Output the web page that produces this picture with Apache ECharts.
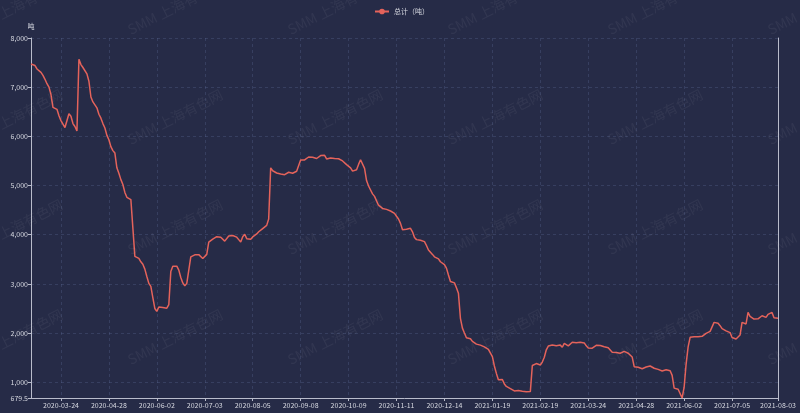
<!DOCTYPE html>
<html>
<head>
<meta charset="utf-8">
<style>
  html, body { margin: 0; padding: 0; background: #262b47; }
  #main { width: 800px; height: 413px; }
</style>
<script src="https://cdn.jsdelivr.net/npm/echarts@6/dist/echarts.min.js"></script>
</head>
<body>
<div id="main"></div>
<script>
// dates printed under the x axis, and the category index where each one sits
const labelDates = [
  "2020-03-24", "2020-04-28", "2020-06-02", "2020-07-03", "2020-08-05",
  "2020-09-08", "2020-10-09", "2020-11-11", "2020-12-14", "2021-01-19",
  "2021-02-19", "2021-03-24", "2021-04-28", "2021-06-02", "2021-07-05",
  "2021-08-03",
];
const labelIndex = [15, 39, 63, 87, 111, 135, 159, 183, 207, 231, 255, 279, 303, 327, 351, 374];

// 总计（吨）
const totals = [
  7470, 7460, 7440, 7370, 7330, 7300, 7240, 7160, 7070, 7000,
  6850, 6590, 6560, 6550, 6420, 6320, 6250, 6180, 6180, 6460,
  6410, 6260, 6200, 6110, 7570, 7460, 7400, 7360, 7270, 7120,
  6800, 6700, 6640, 6580, 6450, 6370, 6260, 6170, 6020, 5930,
  5790, 5710, 5660, 5360, 5250, 5120, 5020, 4860, 4760, 4720,
  4715, 4710, 3560, 3545, 3520, 3450, 3400, 3300, 3150, 3010,
  2950, 2720, 2500, 2440, 2530, 2540, 2520, 2515, 2505, 2580,
  3250, 3360, 3370, 3360, 3280, 3130, 3020, 2960, 3010, 2995,
  3550, 3590, 3590, 3585, 3595, 3570, 3515, 3500, 3600, 3850,
  3880, 3910, 3940, 3960, 3970, 3950, 3910, 3870, 3840, 3975,
  3985, 3985, 3975, 3950, 3900, 3850, 3960, 4010, 3920, 3895,
  3910, 3955, 3990, 4015, 4060, 4090, 4125, 4150, 4190, 4320,
  5360, 5300, 5270, 5255, 5240, 5235, 5215, 5220, 5230, 5270,
  5250, 5250, 5260, 5290, 5330, 5520, 5480, 5520, 5555, 5580,
  5590, 5575, 5580, 5550, 5560, 5610, 5630, 5615, 5540, 5500,
  5560, 5575, 5550, 5548, 5545, 5530, 5500, 5460, 5425, 5390,
  5360, 5293, 5293, 5320, 5430, 5525, 5490, 5350, 5100, 4990,
  4950, 4830, 4780, 4740, 4600, 4560, 4535, 4520, 4515, 4490,
  4482, 4478, 4435, 4375, 4320, 4230, 4100, 4080, 4110, 4140,
  4130, 4060, 3942, 3900, 3887, 3887, 3887, 3860, 3780, 3690,
  3650, 3600, 3550, 3530, 3510, 3450, 3410, 3390, 3320, 3180,
  3050, 3040, 3020, 2920, 2810, 2300, 2100, 2000, 1905, 1895,
  1885, 1830, 1800, 1775, 1760, 1755, 1745, 1720, 1695, 1670,
  1658, 1520, 1330, 1180, 1050, 1060, 1055, 966, 915, 890,
  870, 845, 823, 828, 830, 830, 815, 797, 805, 810,
  810, 1340, 1370, 1380, 1380, 1350, 1410, 1507, 1660, 1735,
  1750, 1757, 1750, 1743, 1743, 1755, 1712, 1791, 1775, 1740,
  1740, 1812, 1800, 1805, 1830, 1815, 1820, 1800, 1740, 1695,
  1690, 1693, 1696, 1750, 1770, 1748, 1735, 1723, 1715, 1700,
  1660, 1612, 1609, 1605, 1592, 1590, 1600, 1629, 1610, 1590,
  1550, 1512, 1317, 1310, 1304, 1310, 1275, 1315, 1310, 1290,
  1330, 1300, 1284, 1265, 1262, 1262, 1230, 1215, 1252, 1252,
  1235, 1140, 880, 865, 858, 835, 679.5, 899, 1370, 1720,
  1913, 1920, 1926, 1926, 1926, 1928, 1933, 1960, 1995, 2030,
  2035, 2003, 2217, 2228, 2200, 2150, 2090, 2060, 2045, 2038,
  2010, 1910, 1885, 1880, 1905, 1960, 2217, 2203, 2185, 2420,
  2340, 2300, 2285, 2295, 2290, 2270, 2352, 2339, 2320, 2380,
  2400, 2420, 2310, 2299, 2299,
];

// fill in the unlabelled days between the printed dates
const DAY = 86400000;
const toTime = (s) => Date.parse(s + "T00:00:00Z");
const dates = totals.map((v, i) => {
  let k = 0;
  while (k < labelIndex.length - 2 && i > labelIndex[k + 1]) k++;
  const i0 = labelIndex[k], i1 = labelIndex[k + 1];
  const t0 = toTime(labelDates[k]), t1 = toTime(labelDates[k + 1]);
  const days = Math.round(((i - i0) * (t1 - t0)) / (i1 - i0) / DAY);
  return new Date(t0 + days * DAY).toISOString().slice(0, 10);
});
const showAt = (idx) => labelIndex.indexOf(idx) !== -1;

const watermarks = [];
[15, 175, 335, 495, 655, 815].forEach((x) => {
  [7, 117, 227, 337].forEach((y) => {
    watermarks.push({
      type: "text",
      x: x,
      y: y,
      rotation: 0.47,
      silent: true,
      z: 100,
      style: {
        text: "SMM 上海有色网",
        fill: "rgba(255,255,255,0.055)",
        font: "14px 'Noto Sans CJK SC', sans-serif",
        align: "center",
        verticalAlign: "middle",
      },
    });
  });
});

const axisColor = "#b9bccb";
const labelColor = "#d6d8e0";
const gridColor = "rgba(100,115,160,0.28)";

const chart = echarts.init(document.getElementById("main"));
chart.setOption({
  backgroundColor: "#262b47",
  textStyle: { fontFamily: "'Noto Sans CJK SC', sans-serif" },
  animation: false,
  graphic: watermarks,
  legend: {
    top: 3,
    left: 369,
    itemWidth: 14,
    itemHeight: 7,
    textStyle: { color: labelColor, fontSize: 7 },
    data: ["总计（吨）"],
  },
  grid: { left: 31, right: 22, top: 38, bottom: 15 },
  xAxis: {
    type: "category",
    boundaryGap: false,
    data: dates,
    axisLine: { lineStyle: { color: axisColor } },
    axisTick: { interval: (i) => showAt(i), length: 3, lineStyle: { color: axisColor } },
    axisLabel: { interval: (i) => showAt(i), color: labelColor, fontSize: 7, margin: 4 },
    splitLine: {
      show: true,
      interval: (i) => showAt(i),
      lineStyle: { color: gridColor, type: [3, 3] },
    },
  },
  yAxis: [
    {
      type: "value",
      name: "吨",
      nameGap: 8,
      nameTextStyle: { color: labelColor, fontSize: 7, align: "center" },
      min: "dataMin",
      axisLine: { show: true, lineStyle: { color: axisColor } },
      axisTick: { show: true, length: 3, lineStyle: { color: axisColor } },
      axisLabel: { color: labelColor, fontSize: 7, margin: 3 },
      splitLine: { lineStyle: { color: gridColor, type: [3, 3] } },
    },
    {
      type: "value",
      position: "right",
      axisLine: { show: true, lineStyle: { color: axisColor } },
      axisTick: { show: false },
      axisLabel: { show: false },
      splitLine: { show: false },
    },
  ],
  series: [
    {
      name: "总计（吨）",
      type: "line",
      data: totals,
      symbol: "circle",
      symbolSize: 6,
      showSymbol: false,
      itemStyle: { color: "#e4635b" },
      lineStyle: { color: "#e4635b", width: 1.5 },
    },
  ],
});
</script>
</body>
</html>
